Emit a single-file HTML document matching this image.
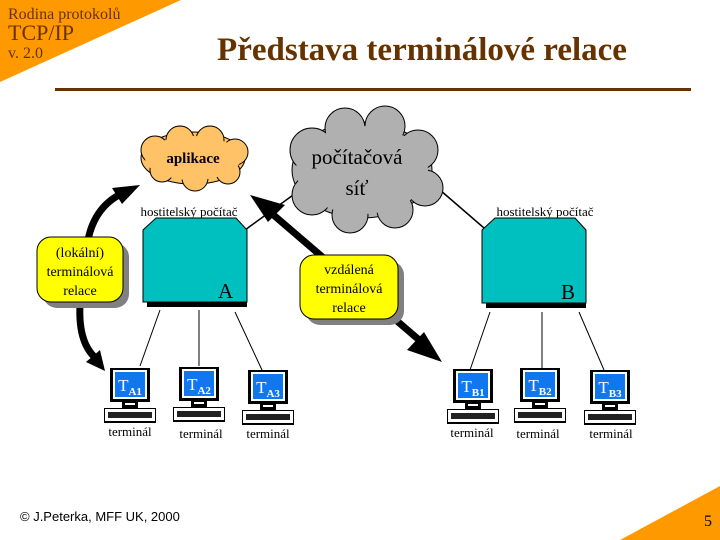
<!DOCTYPE html>
<html><head><meta charset="utf-8"><style>
html,body{margin:0;padding:0;background:#fff;}
svg{display:block;font-family:"Liberation Serif",serif;}
</style></head><body>
<svg width="720" height="540" viewBox="0 0 720 540">
<defs>
<g id="term">
<rect x="-20" y="0" width="40" height="34" fill="#000"/>
<rect x="-17" y="2" width="34" height="29" fill="#fff"/>
<rect x="-15" y="4" width="30" height="25" fill="#1177ee"/>
<rect x="-8" y="34" width="16" height="6" fill="#000"/>
<rect x="-5" y="35" width="10" height="2" fill="#fff"/>
<rect x="-26" y="40" width="52" height="15" fill="#000"/>
<rect x="-25" y="41" width="50" height="12" fill="#fff"/>
<rect x="-22" y="44" width="44" height="6" fill="#222"/>
</g>
</defs>
<polygon points="0,0 181,0 0,82" fill="#ff9900"/>
<polygon points="720,486 720,540 620,540" fill="#ff9900"/>
<text x="8" y="19" font-size="16" fill="#663300">Rodina protokolů</text>
<text x="8" y="40" font-size="22" fill="#663300">TCP/IP</text>
<text x="8" y="58" font-size="16" fill="#663300">v. 2.0</text>
<text x="422" y="60" font-size="33" font-weight="bold" fill="#663300" text-anchor="middle">Představa terminálové relace</text>
<rect x="55" y="88" width="636" height="3" fill="#663300"/>

<line x1="245" y1="230" x2="300" y2="190" stroke="#000" stroke-width="1.5"/>
<line x1="440" y1="190" x2="484" y2="228" stroke="#000" stroke-width="1.5"/>

<g fill="#b0b0b0" stroke="#000" stroke-width="1">
<ellipse cx="362" cy="170" rx="70" ry="48"/>
<circle cx="312" cy="150" r="22"/><circle cx="345" cy="128" r="20"/><circle cx="385" cy="126" r="20"/>
<circle cx="418" cy="150" r="20"/><circle cx="425" cy="188" r="18"/><circle cx="395" cy="210" r="18"/>
<circle cx="350" cy="215" r="18"/><circle cx="312" cy="195" r="20"/>
</g>
<ellipse cx="362" cy="170" rx="66" ry="44" fill="#b0b0b0"/>
<text x="357" y="164" font-size="21" text-anchor="middle">počítačová</text>
<text x="357" y="195" font-size="21" text-anchor="middle">síť</text>

<g fill="#ffc266" stroke="#000" stroke-width="1">
<ellipse cx="193" cy="158" rx="52" ry="26"/>
<circle cx="155" cy="150" r="14"/><circle cx="180" cy="140" r="14"/><circle cx="210" cy="140" r="14"/>
<circle cx="235" cy="152" r="13"/><circle cx="228" cy="172" r="12"/><circle cx="195" cy="178" r="13"/>
<circle cx="162" cy="170" r="12"/>
</g>
<ellipse cx="193" cy="158" rx="48" ry="22" fill="#ffc266"/>
<text x="193" y="163" font-size="15" font-weight="bold" text-anchor="middle">aplikace</text>

<text x="189" y="216" font-size="13" text-anchor="middle">hostitelský počítač</text>
<rect x="147" y="300" width="100" height="7" fill="#000"/>
<polygon points="156,218 236,218 247,230 247,302 143,302 143,230" fill="#00bfbf" stroke="#000"/>
<text x="218" y="298" font-size="21">A</text>
<text x="545" y="216" font-size="13" text-anchor="middle">hostitelský počítač</text>
<rect x="486" y="301" width="100" height="7" fill="#000"/>
<polygon points="495,218 575,218 586,230 586,303 482,303 482,230" fill="#00bfbf" stroke="#000"/>
<text x="561" y="299" font-size="21">B</text>

<g stroke="#000" stroke-width="1">
<line x1="160" y1="310" x2="140" y2="366"/><line x1="199" y1="310" x2="199" y2="366"/><line x1="235" y1="312" x2="262" y2="370"/>
<line x1="490" y1="312" x2="470" y2="370"/><line x1="542" y1="312" x2="542" y2="368"/><line x1="579" y1="312" x2="604" y2="370"/>
</g>

<g font-size="12">
<use href="#term" x="130" y="368"/><text x="130" y="391" font-size="17" fill="#fff" text-anchor="middle">T<tspan font-size="11" font-weight="bold" dy="4">A1</tspan></text>
<use href="#term" x="199" y="367"/><text x="199" y="390" font-size="17" fill="#fff" text-anchor="middle">T<tspan font-size="11" font-weight="bold" dy="4">A2</tspan></text>
<use href="#term" x="268" y="370"/><text x="268" y="393" font-size="17" fill="#fff" text-anchor="middle">T<tspan font-size="11" font-weight="bold" dy="4">A3</tspan></text>
<use href="#term" x="473" y="369"/><text x="473" y="392" font-size="17" fill="#fff" text-anchor="middle">T<tspan font-size="11" font-weight="bold" dy="4">B1</tspan></text>
<use href="#term" x="540" y="368"/><text x="540" y="391" font-size="17" fill="#fff" text-anchor="middle">T<tspan font-size="11" font-weight="bold" dy="4">B2</tspan></text>
<use href="#term" x="610" y="370"/><text x="610" y="393" font-size="17" fill="#fff" text-anchor="middle">T<tspan font-size="11" font-weight="bold" dy="4">B3</tspan></text>
</g>
<g font-size="13" text-anchor="middle">
<text x="130" y="436">terminál</text><text x="201" y="438">terminál</text><text x="268" y="438">terminál</text>
<text x="472" y="437">terminál</text><text x="538" y="438">terminál</text><text x="611" y="438">terminál</text>
</g>

<line x1="425" y1="345" x2="270" y2="212" stroke="#000" stroke-width="7"/>
<polygon points="250,195 285,205 268,222" fill="#000"/>
<polygon points="442,362 407,350 424,332" fill="#000"/>

<path d="M88,240 Q95,205 125,192" fill="none" stroke="#000" stroke-width="7"/>
<polygon points="140,185 112,188 122,204" fill="#000"/>
<path d="M80,305 Q78,345 98,360" fill="none" stroke="#000" stroke-width="7"/>
<polygon points="105,371 86,362 100,350" fill="#000"/>

<rect x="43" y="243" width="86" height="65" rx="14" fill="#808080"/>
<rect x="37" y="237" width="86" height="65" rx="14" fill="#ffff00" stroke="#000"/>
<g font-size="14" text-anchor="middle">
<text x="80" y="257">(lokální)</text><text x="80" y="276">terminálová</text><text x="80" y="295">relace</text>
</g>
<rect x="306" y="261" width="98" height="64" rx="14" fill="#808080"/>
<rect x="300" y="255" width="98" height="64" rx="14" fill="#ffff00" stroke="#000"/>
<g font-size="14" text-anchor="middle">
<text x="349" y="274">vzdálená</text><text x="349" y="293">terminálová</text><text x="349" y="312">relace</text>
</g>

<text x="20" y="521" font-size="13" font-family="Liberation Sans, sans-serif">© J.Peterka, MFF UK, 2000</text>
<text x="712" y="526" font-size="16" text-anchor="end">5</text>
</svg>
</body></html>
